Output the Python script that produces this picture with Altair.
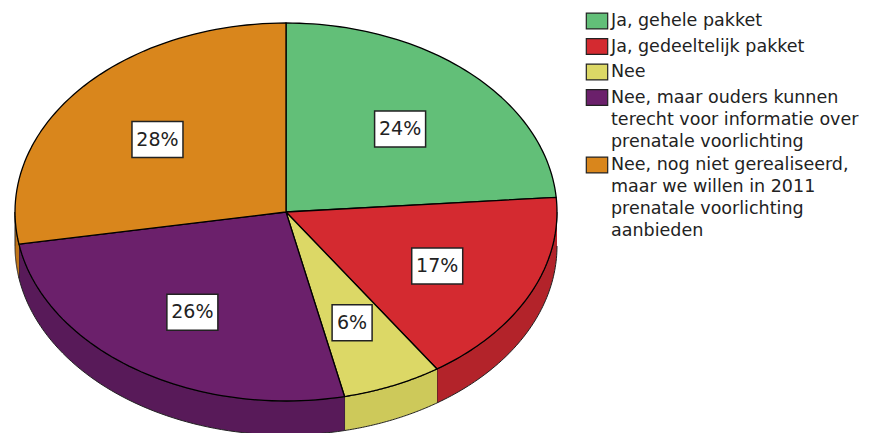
import altair as alt
import pandas as pd

# ---- data ----
categories = [
    "Ja, gehele pakket",
    "Ja, gedeeltelijk pakket",
    "Nee",
    "Nee, maar ouders kunnen\nterecht voor informatie over\nprenatale voorlichting",
    "Nee, nog niet gerealiseerd,\nmaar we willen in 2011\nprenatale voorlichting\naanbieden",
]
percentages = [24, 17, 6, 26, 28]
top_colors = ["#62bf78", "#d42a30", "#dcd866", "#6b206b", "#d9861c"]
side_colors = ["#4f9c61", "#b3232a", "#cdc95a", "#581a59", "#c07418"]

df = pd.DataFrame({
    "cat": categories,
    "pct": percentages,
    "idx": list(range(len(categories))),
    "side": side_colors,
})

# ---- geometry (styling) ----
CX, CY, A, B, DEPTH = 286 - 8, 212 - 8, 271, 189, 34
D = DEPTH / B
N = 60

xscale = alt.Scale(domain=[-1, 1], range=[CX - A, CX + A], nice=False, zero=False)
yscale = alt.Scale(domain=[-1, 1], range=[CY + B, CY - B], nice=False, zero=False)

base = (
    alt.Chart(df)
    .transform_window(cum="sum(pct)", sort=[alt.SortField("idx")], frame=[None, 0])
    .transform_joinaggregate(total="sum(pct)")
    .transform_calculate(a0="2*PI*(datum.cum - datum.pct)/datum.total")
    .transform_calculate(a1="2*PI*datum.cum/datum.total")
)

# side walls (front half only)
side = (
    base.transform_calculate(s0="max(datum.a0, PI/2)")
    .transform_calculate(s1="min(datum.a1, 3*PI/2)")
    .transform_filter("datum.s1 > datum.s0")
    .transform_calculate(step=f"sequence(0, {2 * N + 2})")
    .transform_flatten(["step"])
    .transform_calculate(j=f"datum.step <= {N} ? datum.step : {2 * N + 1} - datum.step")
    .transform_calculate(ang=f"datum.s0 + (datum.s1 - datum.s0) * datum.j / {N}")
    .transform_calculate(px="sin(datum.ang)")
    .transform_calculate(py=f"cos(datum.ang) - (datum.step > {N} ? {D} : 0)")
    .mark_line(stroke="#222222", strokeWidth=1, strokeJoin="round")
    .encode(
        x=alt.X("px:Q", scale=xscale, axis=None),
        y=alt.Y("py:Q", scale=yscale, axis=None),
        fill=alt.Fill("side:N", scale=None, legend=None),
        order=alt.Order("step:Q"),
        detail="cat:N",
    )
)

# top face
top = (
    base.transform_calculate(step=f"sequence(-1, {N + 2})")
    .transform_flatten(["step"])
    .transform_calculate(ang=f"datum.a0 + (datum.a1 - datum.a0) * clamp(datum.step, 0, {N}) / {N}")
    .transform_calculate(inside=f"datum.step >= 0 && datum.step <= {N}")
    .transform_calculate(px="datum.inside ? sin(datum.ang) : 0")
    .transform_calculate(py="datum.inside ? cos(datum.ang) : 0")
    .mark_line(stroke="black", strokeWidth=1.3, strokeJoin="round")
    .encode(
        x=alt.X("px:Q", scale=xscale, axis=None),
        y=alt.Y("py:Q", scale=yscale, axis=None),
        fill=alt.Fill(
            "cat:N",
            scale=alt.Scale(domain=categories, range=top_colors),
            legend=alt.Legend(
                title=None,
                orient="none",
                legendX=579,
                legendY=3,
                padding=0,
                symbolType="M-1.15,-0.85L1.15,-0.85L1.15,0.85L-1.15,0.85Z",
                symbolSize=346,
                symbolStrokeColor="#222222",
                symbolStrokeWidth=1.2,
                symbolOpacity=1,
                labelFont="DejaVu Sans",
                labelFontSize=17.5,
                labelColor="#222222",
                labelLimit=400,
                labelOffset=4,
                rowPadding=3.5,
                labelExpr="split(datum.label, '\\n')",
            ),
        ),
        order=alt.Order("step:Q"),
        detail="cat:N",
    )
)

# labels
lab = (
    base.transform_calculate(mid="(datum.a0 + datum.a1)/2")
    .transform_calculate(lx="0.62*sin(datum.mid)")
    .transform_calculate(ly=f"0.62*cos(datum.mid) - {3 / B}")
    .transform_calculate(txt="datum.pct + '%'")
    .transform_calculate(hw="(length(datum.txt)*11 + 18)/2")
    .transform_calculate(bx0=f"datum.lx - datum.hw/{A}")
    .transform_calculate(bx1=f"datum.lx + datum.hw/{A}")
    .transform_calculate(by0=f"datum.ly - {18 / B}")
    .transform_calculate(by1=f"datum.ly + {18 / B}")
)

boxes = lab.mark_rect(fill="white", stroke="#222222", strokeWidth=1.5).encode(
    x=alt.X("bx0:Q", scale=xscale, axis=None),
    x2="bx1:Q",
    y=alt.Y("by0:Q", scale=yscale, axis=None),
    y2="by1:Q",
)
texts = lab.mark_text(font="DejaVu Sans", fontSize=19, color="#222222").encode(
    x=alt.X("lx:Q", scale=xscale, axis=None),
    y=alt.Y("ly:Q", scale=yscale, axis=None),
    text="txt:N",
)

chart = (
    alt.layer(side, top, boxes, texts)
    .resolve_scale(fill="independent")
    .properties(width=866, height=425, padding=0, autosize="none", background="white")
    .configure(style={"guide-label": {"lineHeight": 22}})
    .configure_view(stroke=None)
)

chart.save("out.html", embed_options={"renderer": "svg", "actions": False})
